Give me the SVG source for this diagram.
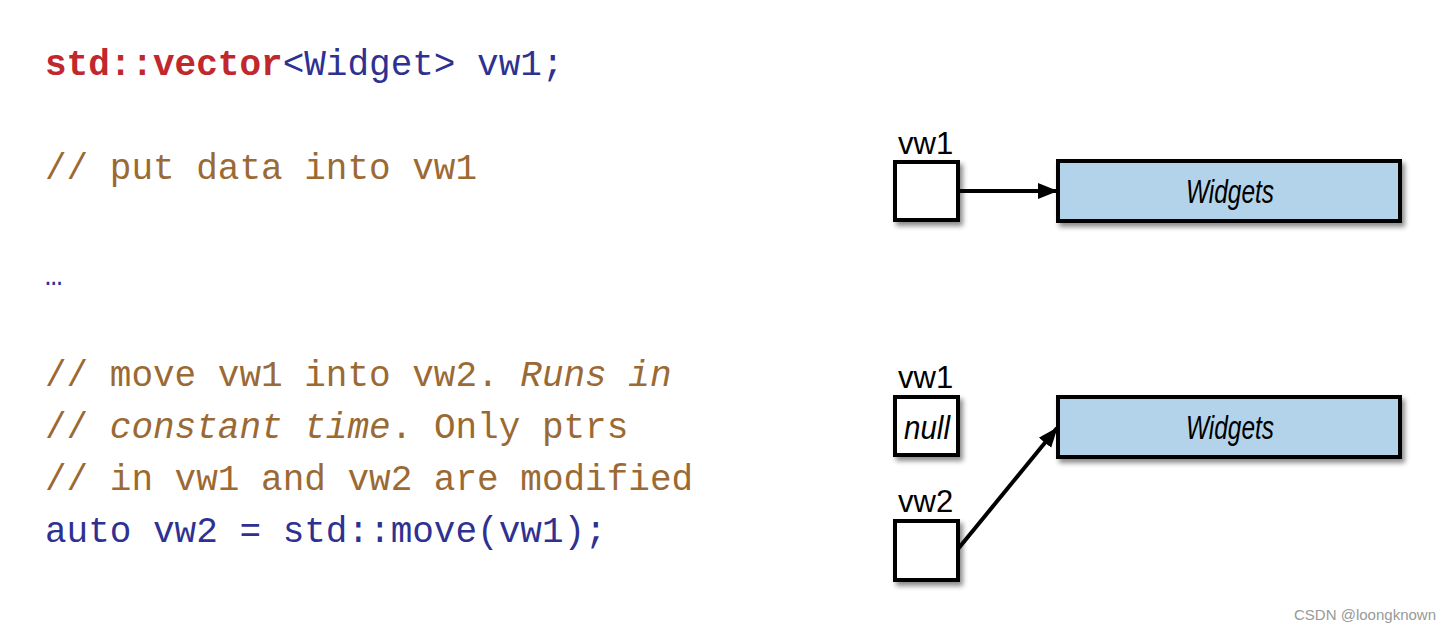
<svg xmlns="http://www.w3.org/2000/svg" width="1451" height="633" viewBox="0 0 1451 633">
<style>
.code{font-family:"Liberation Mono","DejaVu Sans Mono",monospace;font-size:36px}
.kw{fill:#c1272d;font-weight:bold}
.bl{fill:#2e3192}
.cm{fill:#9b6a34}
.it{font-style:italic}
.lbl{font-family:"Liberation Sans","DejaVu Sans",sans-serif;font-size:31px;fill:#000}
.box{fill:#fff;stroke:#000;stroke-width:4}
.vec{fill:#b3d3ea;stroke:#000;stroke-width:4}
.wt{font-family:"Liberation Sans",sans-serif;font-style:italic;font-size:33px;fill:#000}
.conn{stroke:#000;stroke-width:4;fill:none}
</style>
<defs>
<filter id="sh" x="-20%" y="-20%" width="150%" height="160%">
<feDropShadow dx="3" dy="4" stdDeviation="2.5" flood-color="#000" flood-opacity="0.45"/>
</filter>
<marker id="arr" viewBox="0 0 20 20" refX="19" refY="10" markerWidth="20" markerHeight="20" orient="auto" markerUnits="userSpaceOnUse">
<path d="M0,2 L20,10 L0,18 z" fill="#000"/>
</marker>
</defs>
<rect width="1451" height="633" fill="#fff"/>
<g id="code">
<text class="code" x="45" y="75"><tspan class="kw">std::vector</tspan><tspan class="bl">&lt;Widget&gt; vw1;</tspan></text>
<text class="code cm" x="45" y="179">// put data into vw1</text>
<text class="code bl" x="45" y="285" style="font-size:29px">…</text>
<text class="code cm" x="45" y="386">// move vw1 into vw2. <tspan class="it">Runs in</tspan></text>
<text class="code cm" x="45" y="438">// <tspan class="it">constant time</tspan>. Only ptrs</text>
<text class="code cm" x="45" y="490">// in vw1 and vw2 are modified</text>
<text class="code bl" x="45" y="542">auto vw2 = std::move(vw1);</text>
</g>
<g id="connectors">
<line class="conn" x1="958" y1="191" x2="1057" y2="191" marker-end="url(#arr)"/>
<line class="conn" x1="958" y1="549" x2="1057" y2="428" marker-end="url(#arr)"/>
</g>
<g id="vw1-top">
<text class="lbl" x="898" y="154">vw1</text>
<rect class="box" x="895" y="162" width="63" height="58" filter="url(#sh)"/>
</g>
<g id="widgets-top">
<rect class="vec" x="1058" y="161" width="342" height="60" filter="url(#sh)"/>
<text class="wt" x="1230" y="203" text-anchor="middle" textLength="88" lengthAdjust="spacingAndGlyphs">Widgets</text>
</g>
<g id="vw1-bottom">
<text class="lbl" x="898" y="388">vw1</text>
<rect class="box" x="895" y="397" width="63" height="58" filter="url(#sh)"/>
<text class="wt" x="927" y="439" text-anchor="middle" textLength="46" lengthAdjust="spacingAndGlyphs">null</text>
</g>
<g id="widgets-bottom">
<rect class="vec" x="1058" y="397" width="342" height="60" filter="url(#sh)"/>
<text class="wt" x="1230" y="439" text-anchor="middle" textLength="88" lengthAdjust="spacingAndGlyphs">Widgets</text>
</g>
<g id="vw2">
<text class="lbl" x="898" y="512">vw2</text>
<rect class="box" x="895" y="521" width="63" height="59" filter="url(#sh)"/>
</g>
<text x="1436" y="620" text-anchor="end" style="font-family:'Liberation Sans',sans-serif;font-size:15px;fill:#999">CSDN @loongknown</text>
</svg>
